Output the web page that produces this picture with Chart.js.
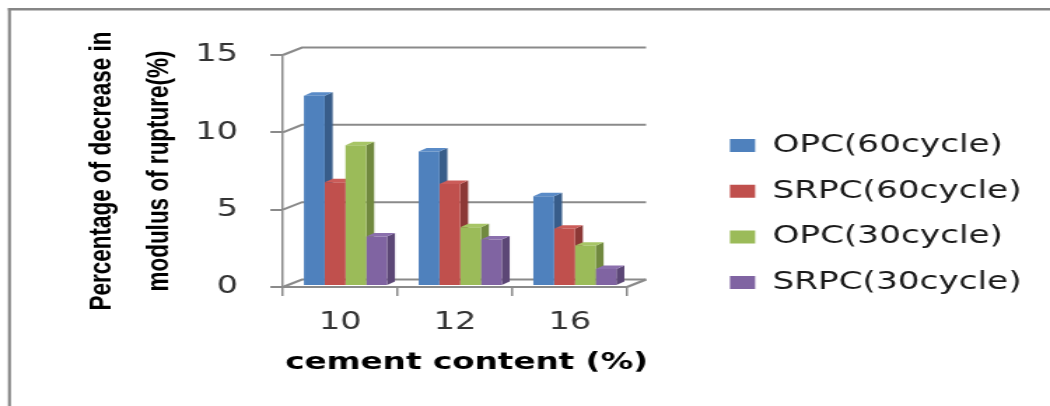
<!DOCTYPE html>
<html>
<head>
<meta charset="utf-8">
<script src="https://cdn.jsdelivr.net/npm/chart.js@4.4.1/dist/chart.umd.min.js"></script>
<style>
  html, body { margin: 0; padding: 0; background: #fff; }
</style>
</head>
<body>
<canvas id="chart" width="750" height="406" style="display:block;width:1050px;height:406px"></canvas>
<script>
// chart values
const categories = ['10', '12', '16'];
const seriesNames = ['OPC(60cycle)', 'SRPC(60cycle)', 'OPC(30cycle)', 'SRPC(30cycle)'];
const opc60 = [12.3, 8.7, 5.8];
const srpc60 = [6.7, 6.6, 3.7];
const opc30 = [9.1, 3.8, 2.6];
const srpc30 = [3.2, 3.0, 1.1];
const yTicks = [0, 5, 10, 15];
const xTitle = 'cement content (%)';

// excel-ish 3D colours: front, side, top
const fronts = ['#4f81bd', '#c0504d', '#9bbb59', '#8064a2'];
const sides = ['#385d8a', '#8c3836', '#71893f', '#5c4776'];
const tops = ['#5a8bc7', '#cb5c59', '#a7c566', '#8b70ad'];

const gridColor = '#8a8a8a';
const depth = { wallDx: 13.6, wallDy: -7.5, barDx: 5.7, barDy: -3.5, shiftX: 3.7, shiftY: -1 };

function poly(ctx, pts, color) {
  ctx.fillStyle = color;
  ctx.beginPath();
  ctx.moveTo(pts[0][0], pts[0][1]);
  for (let i = 1; i < pts.length; i++) ctx.lineTo(pts[i][0], pts[i][1]);
  ctx.closePath();
  ctx.fill();
}

const frame3d = {
  id: 'frame3d',
  beforeDraw(chart) {
    const { ctx, chartArea: a, scales: { y } } = chart;
    ctx.save();
    ctx.fillStyle = '#fff';
    ctx.fillRect(0, 0, chart.width, chart.height);
    // outer border (left + top only are visible)
    ctx.fillStyle = '#868686';
    ctx.fillRect(5.7, 8, 2.1, chart.height);
    ctx.fillRect(5.7, 8, chart.width, 2.5);
    // back wall gridlines + diagonals to the front axis
    ctx.strokeStyle = gridColor;
    ctx.lineWidth = 2;
    y.ticks.forEach(t => {
      const py = y.getPixelForValue(t.value);
      ctx.beginPath();
      ctx.moveTo(a.left, py);
      ctx.lineTo(a.left + depth.wallDx, py + depth.wallDy);
      ctx.lineTo(a.right + depth.wallDx, py + depth.wallDy);
      ctx.stroke();
    });
    ctx.beginPath();
    ctx.moveTo(a.right, a.bottom);
    ctx.lineTo(a.right + depth.wallDx, a.bottom + depth.wallDy);
    ctx.stroke();
    ctx.restore();
  },
  beforeDatasetsDraw(chart) {
    const ctx = chart.ctx;
    ctx.save();
    ctx.translate(depth.shiftX, depth.shiftY);
    const bars = [];
    chart.data.datasets.forEach((ds, i) => {
      chart.getDatasetMeta(i).data.forEach(el => {
        const p = el.getProps(['x', 'y', 'base', 'width'], true);
        bars.push({ p, i });
      });
    });
    const dx = depth.barDx, dy = depth.barDy;
    // side faces first, then tops; library fronts go over them
    bars.forEach(({ p, i }) => {
      const r = p.x + p.width / 2;
      poly(ctx, [[r, p.y], [r + dx, p.y + dy], [r + dx, p.base + dy], [r, p.base]], sides[i]);
    });
    bars.forEach(({ p, i }) => {
      const l = p.x - p.width / 2, r = p.x + p.width / 2;
      poly(ctx, [[l, p.y], [l + dx, p.y + dy], [r + dx, p.y + dy], [r, p.y]], tops[i]);
    });
  },
  afterDatasetsDraw(chart) {
    chart.ctx.restore();
  },
  afterDraw(chart) {
    // x title is wider than the axis in the original, so draw it unclamped
    const { ctx, chartArea: a } = chart;
    ctx.save();
    ctx.font = 'bold 23.3px "DejaVu Sans"';
    ctx.fillStyle = '#000';
    ctx.textAlign = 'center';
    ctx.textBaseline = 'middle';
    ctx.fillText(xTitle, (a.left + a.right) / 2 + 8.3, a.bottom + 76);
    ctx.restore();
  }
};

const seriesData = [opc60, srpc60, opc30, srpc30];
const datasets = seriesData.map((data, i) => ({
  label: seriesNames[i],
  data,
  backgroundColor: fronts[i],
  borderWidth: 0,
  barPercentage: 1,
  categoryPercentage: 0.724
}));

const tickFont = { family: 'DejaVu Sans', size: 24 };

new Chart(document.getElementById('chart'), {
  type: 'bar',
  data: { labels: categories, datasets },
  options: {
    responsive: false,
    animation: false,
    devicePixelRatio: 1,
    layout: { padding: { top: 55, left: 0, right: 10.3, bottom: 32.9 } },
    plugins: {
      tooltip: { enabled: false },
      legend: {
        position: 'right',
        align: 'center',
        maxWidth: 320,
        labels: {
          boxWidth: 18,
          boxHeight: 13,
          padding: 21.2,
          color: '#1a1a1a',
          font: { family: 'DejaVu Sans', size: 24.5 },
          sort: (a, b) => a.datasetIndex - b.datasetIndex
        }
      }
    },
    scales: {
      x: {
        grid: { display: true, drawOnChartArea: false, drawTicks: true, tickLength: 9, color: gridColor, lineWidth: 1.5, offset: true },
        border: { display: true, color: gridColor, width: 2 },
        ticks: { color: '#333', font: tickFont, padding: 12 },
        title: { display: false },
        afterFit: s => { s.height = 86.1; }
      },
      y: {
        min: 0,
        max: 15,
        afterBuildTicks: s => { s.ticks = yTicks.map(v => ({ value: v })); },
        grid: { display: true, drawOnChartArea: false, drawTicks: true, tickLength: 9, color: gridColor, lineWidth: 2 },
        border: { display: true, color: gridColor, width: 1.5 },
        ticks: { color: '#333', font: tickFont, padding: 23 },
        title: {
          display: true,
          text: ['Percentage of decrease in', 'modulus of rupture(%)'],
          color: '#000',
          font: { family: 'Liberation Sans', size: 22.5, weight: 'bold', lineHeight: 1.82 },
          padding: { top: 52.5, bottom: 0 }
        },
        afterFit: s => { s.width = 202.1; }
      },
      gap: {
        type: 'linear',
        position: 'right',
        grid: { display: false },
        border: { display: false },
        ticks: { display: false },
        afterFit: s => { s.width = 52.3; }
      }
    }
  },
  plugins: [frame3d]
});
</script>
</body>
</html>
